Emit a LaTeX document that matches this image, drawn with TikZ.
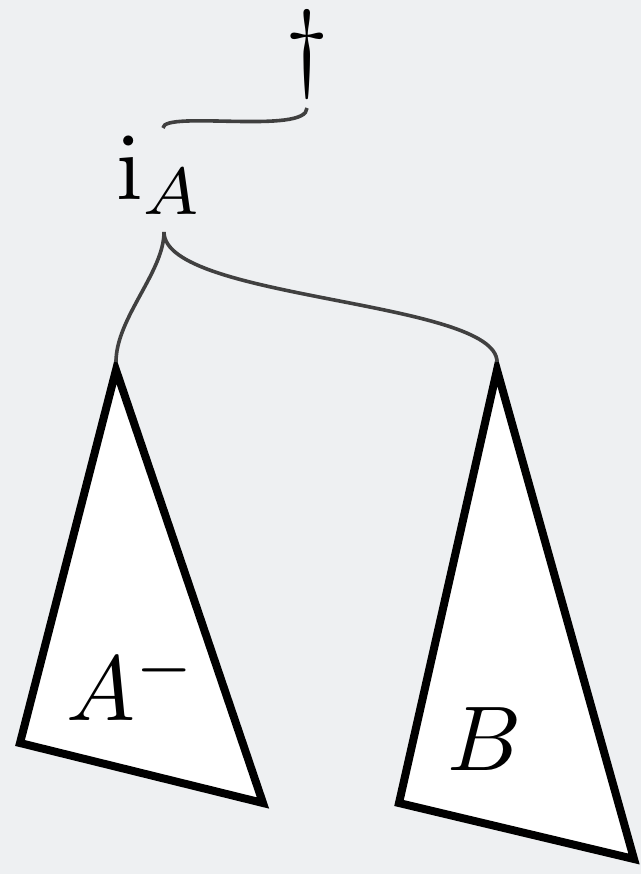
\documentclass[tikz,border=0pt]{standalone}
\begin{document}
\begin{tikzpicture}[x=1pt,y=-1pt,
  lbl/.style={inner sep=0pt},
  wire/.style={draw={rgb,255:red,64;green,64;blue,64},line width=3.6pt},
  tri/.style={draw=black,fill=white,line width=8pt,line join=miter}]
\fill[fill={rgb,255:red,238;green,240;blue,242}] (0,0) rectangle (641,874);
\useasboundingbox (0,0) rectangle (641,874);
% labels
\node[lbl,anchor=base] (dag) at (307,79) {\scalebox{9.8}{$\dagger$}};
\node[lbl,anchor=base west] (ia) at (116,200) {\scalebox{9.5}{$\mathrm{i}_A$}};
% connector points
\coordinate (dagbot) at (307,108);
\coordinate (itop) at (163,128);
\coordinate (ibot) at (164,232);
\coordinate (ta) at (116,362);
\coordinate (tb) at (497,362);
% triangles
\draw[tri] (116,370) -- (20,743) -- (263,803) -- cycle;
\draw[tri] (497,370) -- (399,803) -- (634,859) -- cycle;
\node[lbl,anchor=base west] (am) at (66,720) {\scalebox{9.2}{$A^-$}};
\node[lbl,anchor=base west] (b) at (447,770) {\scalebox{9.2}{$B$}};
% connectors
\draw[wire] (itop) .. controls (163,110) and (307,135) .. (dagbot);
\draw[wire] (ibot) .. controls (164,272) and (116,318) .. (ta);
\draw[wire] (ibot) .. controls (164,300) and (497,300) .. (tb);
\end{tikzpicture}
\end{document}
